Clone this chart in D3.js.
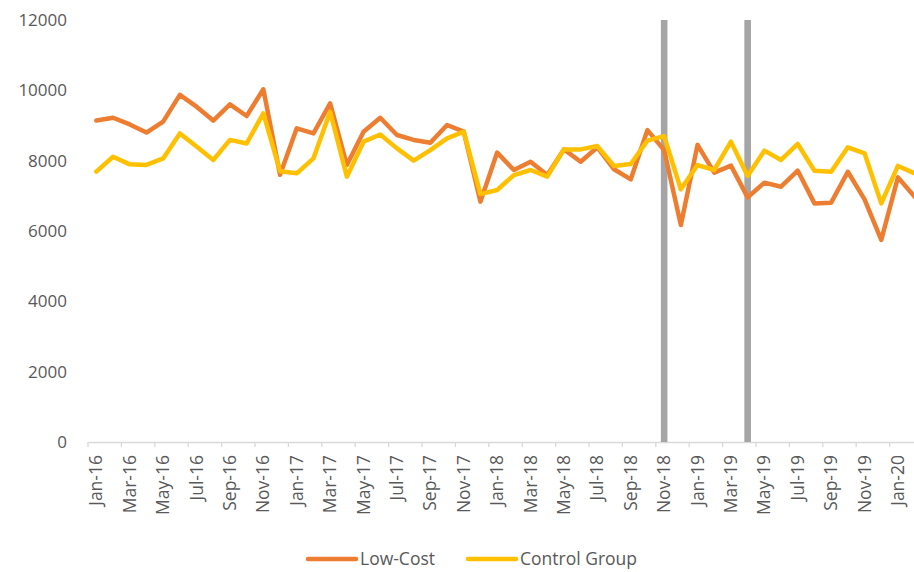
<!DOCTYPE html>
<html>
<head>
<meta charset="utf-8">
<script src="https://cdn.jsdelivr.net/npm/d3@7"></script>
<style>
	body { margin: 0; background: #fff; }
	svg { display: block; font-family: "Open Sans", sans-serif; }
</style>
</head>
<body>
<svg id="chart" width="914" height="572"></svg>
<script>
var months = ["Jan-16","Feb-16","Mar-16","Apr-16","May-16","Jun-16","Jul-16","Aug-16","Sep-16","Oct-16","Nov-16","Dec-16",
	"Jan-17","Feb-17","Mar-17","Apr-17","May-17","Jun-17","Jul-17","Aug-17","Sep-17","Oct-17","Nov-17","Dec-17",
	"Jan-18","Feb-18","Mar-18","Apr-18","May-18","Jun-18","Jul-18","Aug-18","Sep-18","Oct-18","Nov-18","Dec-18",
	"Jan-19","Feb-19","Mar-19","Apr-19","May-19","Jun-19","Jul-19","Aug-19","Sep-19","Oct-19","Nov-19","Dec-19",
	"Jan-20","Feb-20"]

var lowCost = [9140,9220,9030,8800,9110,9870,9535,9140,9600,9270,10030,7600,
	8920,8775,9630,7875,8825,9220,8730,8590,8510,9015,8825,6835,
	8230,7735,7970,7590,8320,7970,8380,7755,7470,8870,8300,6170,
	8450,7660,7860,6955,7375,7260,7715,6785,6805,7685,6900,5745,
	7525,6975]

var control = [7690,8110,7895,7880,8065,8775,8400,8020,8590,8490,9345,7700,
	7640,8065,9390,7545,8540,8745,8350,8000,8300,8635,8825,7050,
	7165,7590,7735,7545,8320,8320,8415,7850,7905,8570,8700,7185,
	7875,7735,8540,7565,8285,8020,8475,7715,7685,8380,8210,6785,
	7850,7640]

var yTicks = [0,2000,4000,6000,8000,10000,12000]
var markers = ["Nov-18","Apr-19"]

var series = [
	{name:"Low-Cost", values:lowCost, color:"#ED7D31"},
	{name:"Control Group", values:control, color:"#FFC000"}
]

var svg = d3.select("#chart")

var plotLeft = 88, plotBottom = 442, plotTop = 20, step = 16.7

var x_scale = d3.scaleBand()
	.domain(months)
	.range([plotLeft, plotLeft + step*months.length])
	.padding(0)

var y_scale = d3.scaleLinear()
	.domain([0, 12000])
	.range([plotBottom, plotTop])

function cx(m) { return x_scale(m) + x_scale.bandwidth()/2 }

// y labels, no gridlines
svg.append("g").selectAll("text")
	.data(yTicks)
	.join("text")
	.attr("x", 67)
	.attr("y", function(d) { return y_scale(d) })
	.attr("dy", "0.35em")
	.attr("text-anchor", "end")
	.attr("font-size", 17)
	.attr("fill", "#595959")
	.text(function(d) { return d })

// category axis
var xAxis = d3.axisBottom(x_scale)
	.tickSize(0)
	.tickFormat(function(d, i) { return i % 2 == 0 ? d : "" })

var gx = svg.append("g")
	.attr("transform", "translate(0," + plotBottom + ")")
	.call(xAxis)

gx.select(".domain").attr("stroke", "#D9D9D9").attr("stroke-width", 1.3)
gx.selectAll("text")
	.attr("transform", "rotate(-90)")
	.attr("text-anchor", "end")
	.attr("x", -13)
	.attr("y", 0)
	.attr("dy", "0.35em")
	.attr("font-size", 17.5)
	.attr("font-family", "Open Sans, sans-serif")
	.attr("fill", "#595959")

// tick marks between categories, every 2
gx.selectAll("line.boundary")
	.data(months.filter(function(d, i) { return i % 2 == 0 }))
	.join("line")
	.attr("class", "boundary")
	.attr("x1", function(d) { return x_scale(d) })
	.attr("x2", function(d) { return x_scale(d) })
	.attr("y1", 0)
	.attr("y2", 5)
	.attr("stroke", "#D9D9D9")
	.attr("stroke-width", 1.3)

// gray event bars
svg.append("g").selectAll("rect")
	.data(markers)
	.join("rect")
	.attr("x", function(d) { return cx(d) - 3.3 })
	.attr("y", y_scale(12000))
	.attr("width", 6.6)
	.attr("height", y_scale(0) - y_scale(12000))
	.attr("fill", "#A5A5A5")

var line = d3.line()
	.x(function(d, i) { return cx(months[i]) })
	.y(function(d) { return y_scale(d) })

svg.append("g").selectAll("path")
	.data(series)
	.join("path")
	.attr("fill", "none")
	.attr("stroke", function(d) { return d.color })
	.attr("stroke-width", 4.5)
	.attr("stroke-linejoin", "round")
	.attr("stroke-linecap", "round")
	.attr("d", function(d) { return line(d.values) })

// legend
var legendX = [308, 468]
var lg = svg.append("g").selectAll("g")
	.data(series)
	.join("g")
	.attr("transform", function(d, i) { return "translate(" + legendX[i] + ",559)" })

lg.append("line")
	.attr("x1", 0).attr("x2", 48)
	.attr("stroke", function(d) { return d.color })
	.attr("stroke-width", 4.5)
	.attr("stroke-linecap", "round")

lg.append("text")
	.attr("x", 52)
	.attr("dy", "0.35em")
	.attr("font-size", 17.5)
	.attr("fill", "#595959")
	.text(function(d) { return d.name })
</script>
</body>
</html>
